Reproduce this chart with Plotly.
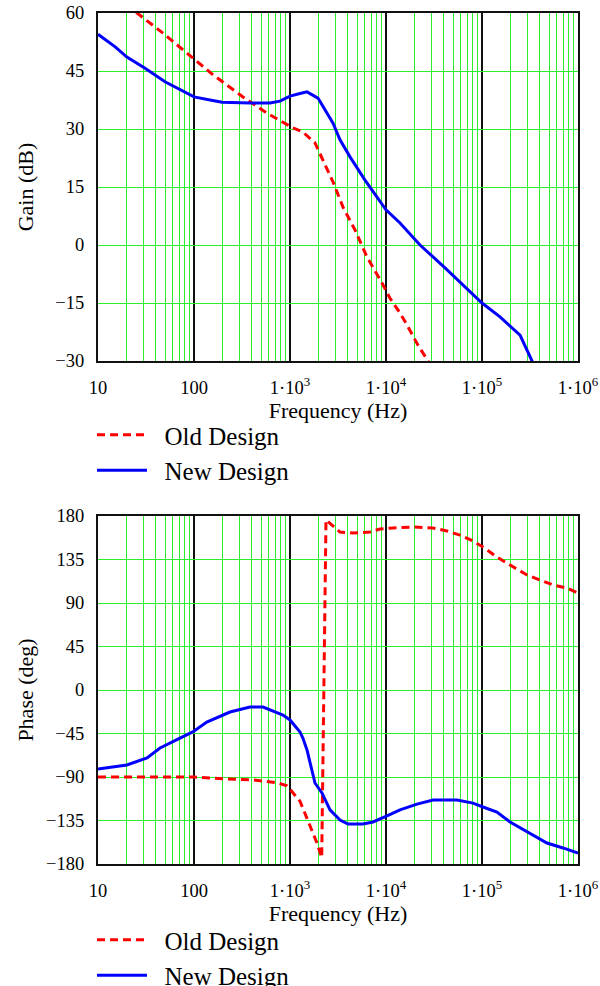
import plotly.graph_objects as go

# ---- Gain data (Hz, dB) ----
f_gain_old = [15, 25.5, 47.5, 97, 158, 324, 575, 1070, 1365, 1820, 2210, 2807,
              3565, 4750, 6340, 9080, 10960, 13990, 16560, 21540, 27400, 31000]
gain_old = [64.0, 60.0, 54.8, 48.4, 44.0, 38.3, 34.1, 30.3, 29.2, 26.4, 22.0, 16.3,
            9.8, 3.9, -3.1, -9.8, -13.7, -17.6, -20.7, -25.9, -30.0, -32.0]

f_gain_new = [10, 15, 20, 30.9, 49.9, 70, 100, 147, 196, 383, 619, 787, 1000, 1271,
              1503, 1957, 2807, 3318, 4217, 6042, 10000, 13990, 22600, 41200, 59000,
              100000, 154000, 249000, 332000, 400000]
gain_new = [54.5, 51.3, 48.6, 45.7, 42.2, 40.2, 38.3, 37.5, 36.9, 36.7, 36.7, 37.2,
            38.5, 39.2, 39.6, 38.0, 31.5, 27.2, 22.8, 16.8, 9.1, 5.7, 0.0, -5.9, -9.6,
            -15.0, -18.6, -23.3, -30.0, -33.0]

# ---- Phase data (Hz, deg) ----
f_phase_old = [10, 100, 219, 412, 733, 930, 1271, 1616, 1905, 2140, 2371, 3318,
               4530, 6810, 8660, 11830, 19100, 30900, 43200, 59000, 80500,
               102400, 143000, 196000, 294000, 402000, 550000, 767000, 1000000]
phase_old = [-90.0, -90.0, -92.0, -93.0, -96.0, -99.0, -115.0, -141.7, -158.0, -173.5,
             176.0, 163.4, 162.4, 163.4, 166.6, 167.6, 168.6, 167.6, 164.5, 160.3,
             154.1, 148.0, 137.6, 129.3, 119.0, 113.8, 108.6, 105.5, 100.3]

f_phase_new = [10, 20, 32.4, 44.3, 71.5, 97, 136, 237, 383, 524, 845, 1000, 1271,
               1365, 1503, 1820, 2154, 2610, 3318, 4017, 5760, 7320, 10240, 13990,
               21040, 30900, 54900, 80500, 102400, 143000, 196000, 316000, 475000,
               698000, 1000000]
phase_new = [-81.7, -77.6, -70.3, -60.0, -49.7, -43.4, -33.1, -22.8, -17.6, -17.6,
             -25.9, -31.0, -43.4, -50.0, -62.0, -96.2, -106.5, -124.0, -134.5,
             -138.6, -138.6, -136.5, -130.3, -124.0, -118.0, -113.8, -113.8,
             -117.0, -121.0, -126.2, -136.5, -148.0, -158.3, -163.4, -168.6]

# ---- Axis ticks ----
decades = [10, 100, 1000, 10000, 100000, 1000000]
decade_labels = ["10", "100", "1\u00b710<sup>3</sup>", "1\u00b710<sup>4</sup>",
                 "1\u00b710<sup>5</sup>", "1\u00b710<sup>6</sup>"]
gain_ticks = [-30, -15, 0, 15, 30, 45, 60]
phase_ticks = [-180, -135, -90, -45, 0, 45, 90, 135, 180]

W, H = 600, 986
FONT = "Liberation Serif"
GREEN = "#2bef2b"
RED = "#ff0000"
BLUE = "#0000ff"
PAD = "\u00a0\u00a0"  # small gap between legend line and its text

# green minor grid at 2..9 x each decade; decades carry labels and dark grid
minor_vals = [m * d for d in decades[:-1] for m in range(2, 10)]


def xdom(a, b):
    return [a / W, b / W]


def ydom(top, bottom):
    return [1 - bottom / H, 1 - top / H]


fig = go.Figure()

fig.add_trace(go.Scatter(x=f_gain_old, y=gain_old, mode="lines", name=PAD + "Old Design",
                         line=dict(color=RED, width=3, dash="8px,5px"),
                         xaxis="x", yaxis="y", legend="legend"))
fig.add_trace(go.Scatter(x=f_gain_new, y=gain_new, mode="lines", name=PAD + "New Design",
                         line=dict(color=BLUE, width=3),
                         xaxis="x", yaxis="y", legend="legend"))
fig.add_trace(go.Scatter(x=f_phase_old, y=phase_old, mode="lines", name=PAD + "Old Design",
                         line=dict(color=RED, width=3, dash="8px,5px"),
                         xaxis="x2", yaxis="y2", legend="legend2"))
fig.add_trace(go.Scatter(x=f_phase_new, y=phase_new, mode="lines", name=PAD + "New Design",
                         line=dict(color=BLUE, width=3),
                         xaxis="x2", yaxis="y2", legend="legend2"))

common_x = dict(
    type="log", range=[1, 6], tickmode="array", tickvals=decades, ticktext=decade_labels,
    showgrid=True, gridcolor="#111111", gridwidth=2, zeroline=False,
    minor=dict(tickmode="array", tickvals=minor_vals, showgrid=True,
               gridcolor=GREEN, gridwidth=1, ticks=""),
    showline=True, mirror=True, linecolor="#111111", linewidth=2,
    ticks="outside", ticklen=9, tickcolor="rgba(0,0,0,0)",
    tickfont=dict(family=FONT, size=18.5, color="black"),
    title=dict(text="Frequency (Hz)", font=dict(family=FONT, size=22, color="black"),
               standoff=0),
    domain=xdom(98, 578), automargin=False,
)
common_y = dict(
    tickmode="array", showgrid=True, gridcolor=GREEN, gridwidth=1, zeroline=False,
    showline=True, mirror=True, linecolor="#111111", linewidth=2,
    ticks="outside", ticklen=8, tickcolor="rgba(0,0,0,0)",
    tickfont=dict(family=FONT, size=18.5, color="black"), automargin=False,
)

legend_common = dict(xanchor="left", yanchor="top", bgcolor="rgba(0,0,0,0)",
                     itemwidth=50, font=dict(family=FONT, size=25, color="black"))

fig.update_layout(
    width=W, height=H,
    margin=dict(l=0, r=0, t=0, b=0, autoexpand=False),
    paper_bgcolor="white", plot_bgcolor="white",
    font=dict(family=FONT, color="black"),
    xaxis=dict(common_x, anchor="y"),
    yaxis=dict(common_y, anchor="x", range=[-30, 60], tickvals=gain_ticks,
               domain=ydom(13, 361),
               title=dict(text="Gain (dB)", font=dict(family=FONT, size=22), standoff=16)),
    xaxis2=dict(common_x, anchor="y2"),
    yaxis2=dict(common_y, anchor="x2", range=[-180, 180], tickvals=phase_ticks,
                domain=ydom(516, 864),
                title=dict(text="Phase (deg)", font=dict(family=FONT, size=22), standoff=6)),
    legend=dict(legend_common, x=92 / W, y=1 - 412 / H),
    legend2=dict(legend_common, x=92 / W, y=1 - 917 / H),
)

fig.write_html("out.html")
